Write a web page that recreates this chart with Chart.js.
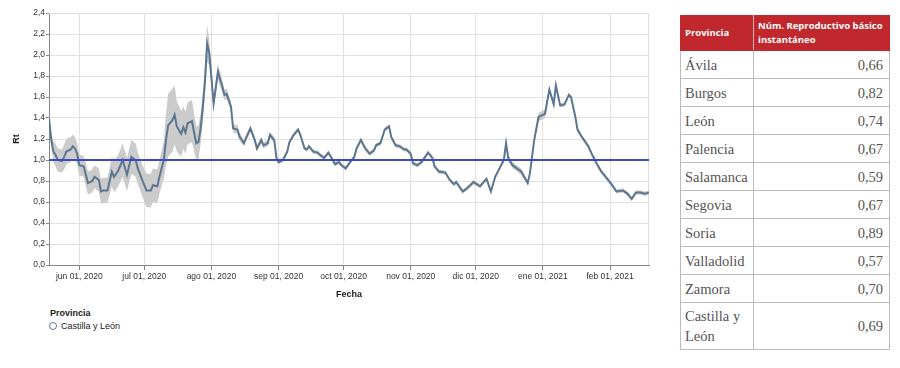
<!DOCTYPE html>
<html lang="es">
<head>
    <meta charset="UTF-8">
    <title>Número reproductivo básico instantáneo - Castilla y León</title>
    <script src="https://cdn.jsdelivr.net/npm/chart.js@4"></script>
    <style>
        body {
            margin: 0;
            background: #fff;
            font-family: "Liberation Sans", Arial, sans-serif;
        }
        #wrap {
            position: relative;
            width: 900px;
            height: 368px;
        }
        #chartBox {
            position: absolute;
            left: 0;
            top: 0;
            width: 660px;
            height: 300px;
        }
        #leyenda {
            position: absolute;
            left: 50px;
            top: 308px;
            color: #222;
            font-size: 9px;
        }
        #leyenda .titulo {
            font-weight: bold;
            margin-bottom: 3px;
        }
        #leyenda .item {
            display: flex;
            align-items: center;
        }
        #leyenda .circulo {
            width: 6px;
            height: 6px;
            border: 1.3px solid #5d7690;
            border-radius: 50%;
            margin-right: 4px;
            margin-left: -1px;
        }
        #tabla {
            position: absolute;
            left: 680px;
            top: 15px;
            width: 209px;
            border-collapse: collapse;
            table-layout: fixed;
        }
        #tabla th {
            background: #c0282e;
            color: #fff;
            font-family: "Open Sans", sans-serif;
            font-weight: bold;
            font-size: 9.5px;
            line-height: 14px;
            text-align: left;
            vertical-align: middle;
            height: 34px;
            padding: 0 4px;
            border: 1px solid #c0282e;
            border-right: 1px solid #e6b3b3;
        }
        #tabla th:last-child {
            border-right: 1px solid #c0282e;
        }
        #tabla td {
            border: 1px solid #bbb;
            font-family: "Liberation Serif", serif;
            font-size: 14.5px;
            line-height: 20px;
            color: #555;
            height: 27px;
            padding: 0 4px;
        }
        #tabla td.valor {
            text-align: right;
            padding-right: 6px;
        }
        #tabla tr.ultima td {
            height: 46px;
        }
    </style>
</head>
<body>
<div id="wrap">
    <div id="chartBox"><canvas id="grafico"></canvas></div>
    <div id="leyenda">
        <div class="titulo">Provincia</div>
        <div class="item"><span class="circulo"></span>Castilla y León</div>
    </div>
    <table id="tabla">
        <colgroup><col style="width:73px"><col style="width:136px"></colgroup>
        <thead>
            <tr><th>Provincia</th><th>Núm. Reproductivo básico instantáneo</th></tr>
        </thead>
        <tbody></tbody>
    </table>
</div>

<script>
    // día 0 = 18 may 2020
    const fechaInicio = '2020-05-18';

    const dias = [
        0, 1, 2, 3, 4, 6, 7, 8, 10, 11, 12, 13,                                 // may
        14, 16, 17, 18, 20, 21, 23, 24, 25, 27, 29, 30, 32, 34, 36, 38, 40, 41, 43, // jun
        45, 47, 48, 50, 51, 53, 54, 55, 57, 58, 59, 61, 62, 63, 64, 66, 67, 68, 69, 70, 71, 72, 73, 74, // jul
        76, 78, 80, 81, 82, 84, 85, 87, 88, 90, 91, 93, 95, 96, 98, 99, 101, 102, 104, 105, // ago
        106, 108, 110, 111, 113, 115, 116, 118, 119, 120, 122, 124, 125, 127, 129, 131, 132, 134, 135, // sep
        137, 139, 141, 142, 144, 146, 148, 150, 151, 153, 155, 157, 158, 160, 162, 164, 165, // oct
        167, 168, 170, 172, 175, 177, 178, 180, 183, 185, 187, 188, 191, 193, 196, // nov
        199, 202, 204, 206, 208, 210, 211, 212, 214, 216, 218, 221, 222, 224, 226, // dic
        229, 231, 233, 234, 236, 238, 240, 241, 243, 244, 246, 249, 251, 253, 255, 257, // ene
        260, 262, 265, 267, 269, 271, 273, 275, 277                           // feb
    ];

    const rt = [
        1.40, 1.20, 1.08, 1.05, 1.00, 0.99, 1.03, 1.08, 1.10, 1.13, 1.11, 1.06,
        0.95, 0.94, 0.86, 0.78, 0.80, 0.84, 0.81, 0.70, 0.71, 0.71, 0.89, 0.84, 0.90, 1.00, 0.86, 1.03, 1.00, 0.92, 0.81,
        0.71, 0.71, 0.76, 0.75, 0.84, 1.00, 1.19, 1.33, 1.38, 1.43, 1.32, 1.25, 1.31, 1.26, 1.35, 1.37, 1.26, 1.16, 1.17, 1.30, 1.50, 1.75, 2.11, 2.02,
        1.54, 1.84, 1.70, 1.62, 1.63, 1.51, 1.30, 1.29, 1.22, 1.16, 1.21, 1.30, 1.19, 1.11, 1.19, 1.14, 1.16, 1.24, 1.19, 1.02,
        0.98, 1.00, 1.08, 1.17, 1.24, 1.29, 1.24, 1.11, 1.10, 1.13, 1.08, 1.07, 1.05, 1.02, 1.07, 1.00, 0.96, 0.98, 0.95,
        0.92, 0.98, 1.03, 1.11, 1.19, 1.11, 1.06, 1.09, 1.14, 1.16, 1.29, 1.32, 1.22, 1.14, 1.13, 1.10, 1.10,
        1.06, 0.97, 0.95, 0.98, 1.07, 1.02, 0.94, 0.89, 0.88, 0.81, 0.77, 0.79, 0.70, 0.73, 0.79,
        0.75, 0.82, 0.70, 0.84, 0.92, 1.00, 1.16, 1.02, 0.95, 0.92, 0.89, 0.78, 0.87, 1.19, 1.41,
        1.44, 1.67, 1.53, 1.71, 1.52, 1.53, 1.62, 1.60, 1.41, 1.29, 1.22, 1.13, 1.04, 0.96, 0.89, 0.84,
        0.76, 0.70, 0.71, 0.68, 0.63, 0.69, 0.69, 0.68, 0.69
    ];

    // semiancho del intervalo de credibilidad
    const rtIntervalo = [
        0.03, 0.06, 0.10, 0.11, 0.11, 0.11, 0.12, 0.12, 0.12, 0.11, 0.11, 0.10,
        0.10, 0.10, 0.11, 0.11, 0.11, 0.11, 0.11, 0.12, 0.12, 0.12, 0.14, 0.15, 0.15, 0.16, 0.16, 0.16, 0.16, 0.15, 0.15,
        0.16, 0.16, 0.16, 0.16, 0.16, 0.18, 0.25, 0.30, 0.30, 0.28, 0.24, 0.22, 0.20, 0.20, 0.20, 0.20, 0.18, 0.16, 0.16, 0.15, 0.14, 0.14, 0.18, 0.12,
        0.06, 0.08, 0.06, 0.05, 0.05, 0.05, 0.04, 0.04, 0.04, 0.03, 0.03, 0.03, 0.03, 0.03, 0.03, 0.03, 0.03, 0.03, 0.03, 0.03,
        0.02, 0.02, 0.02, 0.02, 0.02, 0.02, 0.02, 0.02, 0.02, 0.02, 0.02, 0.02, 0.02, 0.02, 0.02, 0.02, 0.02, 0.02, 0.02,
        0.02, 0.02, 0.02, 0.02, 0.02, 0.02, 0.02, 0.02, 0.02, 0.02, 0.02, 0.02, 0.02, 0.02, 0.02, 0.02, 0.02,
        0.02, 0.02, 0.02, 0.02, 0.02, 0.02, 0.02, 0.02, 0.02, 0.02, 0.02, 0.02, 0.02, 0.02, 0.02,
        0.02, 0.02, 0.02, 0.02, 0.02, 0.02, 0.02, 0.03, 0.03, 0.03, 0.03, 0.02, 0.02, 0.03, 0.04,
        0.04, 0.02, 0.02, 0.02, 0.02, 0.02, 0.02, 0.02, 0.02, 0.02, 0.02, 0.02, 0.02, 0.02, 0.02, 0.02,
        0.02, 0.02, 0.02, 0.02, 0.02, 0.02, 0.02, 0.02, 0.02
    ];

    const referencia = 1.0;

    const tickFechas = ['2020-06-01', '2020-07-01', '2020-08-01', '2020-09-01', '2020-10-01',
                        '2020-11-01', '2020-12-01', '2021-01-01', '2021-02-01'];
    const tickLabels = ['jun 01, 2020', 'jul 01, 2020', 'ago 01, 2020', 'sep 01, 2020', 'oct 01, 2020',
                        'nov 01, 2020', 'dic 01, 2020', 'ene 01, 2021', 'feb 01, 2021'];

    const provincias = ['Ávila', 'Burgos', 'León', 'Palencia', 'Salamanca', 'Segovia',
                        'Soria', 'Valladolid', 'Zamora', 'Castilla y León'];
    const rtProvincia = [0.66, 0.82, 0.74, 0.67, 0.59, 0.67, 0.89, 0.57, 0.70, 0.69];

    // ---- tabla
    const tbody = document.querySelector('#tabla tbody');
    provincias.forEach((p, i) => {
        const tr = document.createElement('tr');
        if (i === provincias.length - 1) tr.className = 'ultima';
        tr.innerHTML = `<td>${p}</td><td class="valor">${rtProvincia[i].toFixed(2).replace('.', ',')}</td>`;
        tbody.appendChild(tr);
    });

    // ---- gráfico
    const DIA = 86400000;
    const t0 = Date.parse(fechaInicio);
    const tickDias = tickFechas.map(f => Math.round((Date.parse(f) - t0) / DIA));
    const ultimoDia = dias[dias.length - 1];

    const puntosRt = dias.map((d, i) => ({ x: d, y: rt[i] }));
    const puntosBajo = dias.map((d, i) => ({ x: d, y: rt[i] - rtIntervalo[i] }));
    const puntosAlto = dias.map((d, i) => ({ x: d, y: rt[i] + rtIntervalo[i] }));

    const marcoPlot = {
        id: 'marcoPlot',
        beforeDatasetsDraw(chart) {
            const { ctx, chartArea: a } = chart;
            ctx.save();
            ctx.strokeStyle = '#dddddd';
            ctx.lineWidth = 1;
            ctx.beginPath();
            ctx.moveTo(a.left, a.top + 0.5);
            ctx.lineTo(a.right - 0.5, a.top + 0.5);
            ctx.lineTo(a.right - 0.5, a.bottom);
            ctx.stroke();
            ctx.restore();
        }
    };

    const fuente = { family: '"Liberation Sans", Arial, sans-serif', size: 8.5 };

    new Chart(document.getElementById('grafico'), {
        type: 'line',
        data: {
            datasets: [
                {
                    label: 'Rt = 1',
                    data: [{ x: 0, y: referencia }, { x: ultimoDia, y: referencia }],
                    borderColor: '#3b4bbf',
                    borderWidth: 2,
                    pointRadius: 0,
                    order: 0
                },
                {
                    label: 'Castilla y León',
                    data: puntosRt,
                    borderColor: '#5d7690',
                    borderWidth: 2,
                    pointRadius: 0,
                    order: 1
                },
                {
                    label: 'inferior',
                    data: puntosBajo,
                    borderWidth: 0,
                    borderColor: 'rgba(0,0,0,0)',
                    pointRadius: 0,
                    fill: false,
                    order: 3
                },
                {
                    label: 'superior',
                    data: puntosAlto,
                    borderWidth: 0,
                    borderColor: 'rgba(0,0,0,0)',
                    backgroundColor: '#cbcbcb',
                    pointRadius: 0,
                    fill: '-1',
                    order: 2
                }
            ]
        },
        options: {
            responsive: true,
            maintainAspectRatio: false,
            animation: false,
            layout: { padding: { left: 0, right: 11, top: 13, bottom: 0 } },
            plugins: {
                legend: { display: false },
                tooltip: { enabled: false }
            },
            scales: {
                x: {
                    type: 'linear',
                    min: 0,
                    max: ultimoDia,
                    afterBuildTicks: s => { s.ticks = tickDias.map(v => ({ value: v })); },
                    afterFit: s => { s.height = 35; },
                    ticks: {
                        autoSkip: false,
                        maxRotation: 0,
                        padding: 2,
                        color: '#333',
                        font: fuente,
                        callback: (v, i) => tickLabels[i]
                    },
                    grid: { color: '#e2e2e2', tickColor: '#888', tickLength: 5 },
                    border: { color: '#888' },
                    title: {
                        display: true,
                        text: 'Fecha',
                        color: '#222',
                        font: { family: fuente.family, size: 9, weight: 'bold' },
                        padding: { top: 5, bottom: 0 }
                    }
                },
                y: {
                    min: 0,
                    max: 2.4,
                    afterFit: s => { s.width = 49; },
                    ticks: {
                        stepSize: 0.2,
                        padding: 1,
                        color: '#333',
                        font: fuente,
                        callback: v => v.toFixed(1).replace('.', ',')
                    },
                    grid: { color: '#e2e2e2', tickColor: '#888', tickLength: 3 },
                    border: { color: '#888' },
                    title: {
                        display: true,
                        text: 'Rt',
                        color: '#222',
                        font: { family: fuente.family, size: 9, weight: 'bold' },
                        padding: { top: 11, bottom: 0 }
                    }
                }
            }
        },
        plugins: [marcoPlot]
    });
</script>
</body>
</html>
